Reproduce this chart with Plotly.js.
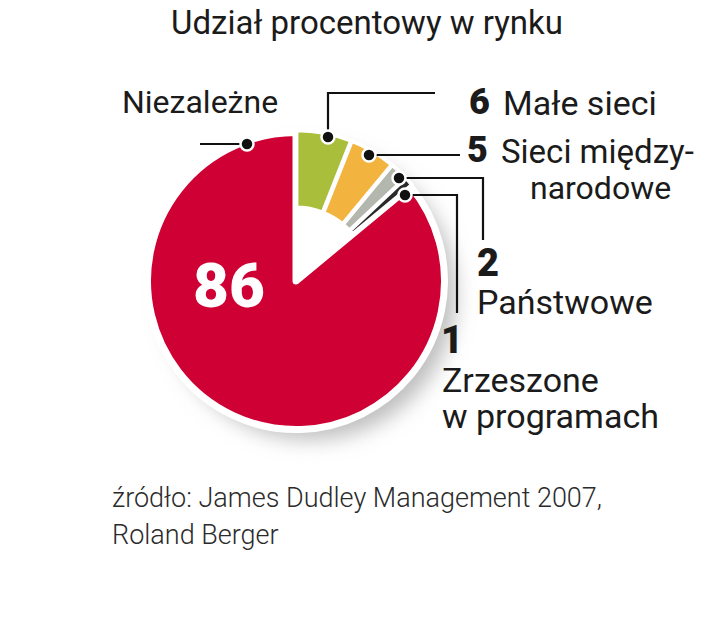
<!DOCTYPE html>
<html>
<head>
<meta charset="utf-8">
<script src="https://cdn.plot.ly/plotly-3.0.1.min.js"></script>
<style>html,body{margin:0;padding:0;background:#fff}#chart{width:720px;height:633px}</style>
</head>
<body>
<div id="chart"></div>
<script>
// ---- data ----
var categories = ["Małe sieci", "Sieci między-<br>narodowe", "Państwowe", "Zrzeszone w programach", "Niezależne"];
var shares = [6, 5, 2, 1, 86];
var sliceColors = ["#a9be3b", "#f2b43f", "#b3b7ad", "#2a2a2a", "#cf0033"];
var titleText = "Udział procentowy w rynku";
var sourceLines = ["źródło: James Dudley Management 2007,", "Roland Berger"];

// ---- layout helpers (pixel -> paper) ----
var W = 720, H = 633;
function px(x) { return x / W; }
function py(y) { return 1 - y / H; }

var cx = 296, cy = 281, r = 148.5, pullAmt = 0.015;
var half = r * (1 + pullAmt);
var dom = { x: [px(cx - half), px(cx + half)], y: [py(cy + half), py(cy - half)] };
var pulls = shares.map(function (v, i) { return i < 4 ? pullAmt : 0; });
var clear = "rgba(0,0,0,0)";

// full pie: red slice plus white wedge for the gap
var base = {
  type: "pie", values: shares, labels: categories, sort: false,
  direction: "clockwise", rotation: 0, textinfo: "none", hoverinfo: "skip",
  showlegend: false, domain: dom, pull: pulls,
  marker: {
    colors: sliceColors.map(function (c, i) { return i === 4 ? c : "#ffffff"; }),
    line: { color: "#ffffff", width: shares.map(function (v, i) { return i === 4 ? 7 : 3; }) }
  }
};
// outer ring holding the small slices
var ring = {
  type: "pie", values: shares, labels: categories, sort: false, hole: 0.48,
  direction: "clockwise", rotation: 0, textinfo: "none", hoverinfo: "skip",
  showlegend: false, domain: dom, pull: pulls,
  marker: {
    colors: sliceColors.map(function (c, i) { return i === 4 ? clear : c; }),
    line: { color: "#ffffff", width: shares.map(function (v, i) { return i === 4 ? 0 : 4; }) }
  }
};

var FONT = "Roboto, 'DejaVu Sans', sans-serif";
var INK = "#1b1b1b";
function ann(text, x, y, size, opts) {
  opts = opts || {};
  return {
    xref: "paper", yref: "paper", x: px(x), y: py(y), text: text, showarrow: false,
    xanchor: opts.xanchor || "left", yanchor: "middle", align: "left",
    font: { family: FONT, size: size, color: opts.color || INK, weight: opts.weight || 400 }
  };
}

var annotations = [
  ann(categories[4], 120, 102, 32),
  ann(String(shares[0]), 467, 102, 36, { weight: 900 }),
  ann(categories[0], 501, 103, 34),
  ann(String(shares[1]), 465, 150, 36, { weight: 900 }),
  ann("Sieci między-", 499, 151, 33),
  ann("narodowe", 528, 188, 32),
  ann(String(shares[2]), 475, 263, 38, { weight: 900 }),
  ann(categories[2], 475, 302, 34),
  ann(String(shares[3]), 439, 340, 38, { weight: 900 }),
  ann("Zrzeszone", 440, 380, 34),
  ann("w programach", 440, 416, 34),
  ann(String(shares[4]), 229, 286, 62, { xanchor: "center", color: "#ffffff", weight: 900 }),
  ann(sourceLines[0], 110, 498, 27, { weight: 300, color: "#2b2b2b" }),
  ann(sourceLines[1], 110, 535, 27, { weight: 300, color: "#2b2b2b" })
];

function seg(pts) {
  var d = "M" + pts.map(function (p) { return px(p[0]) + "," + py(p[1]); }).join(" L");
  return { type: "path", xref: "paper", yref: "paper", path: d,
           line: { color: "#111", width: 2.2 }, layer: "above" };
}
function dot(x, y) {
  var rr = 6.5;
  return { type: "circle", xref: "paper", yref: "paper",
           x0: px(x - rr), x1: px(x + rr), y0: py(y + rr), y1: py(y - rr),
           fillcolor: "#111", line: { color: "#ffffff", width: 2.5 }, layer: "above" };
}
var shapes = [
  seg([[200, 144], [247, 144]]),
  seg([[328, 137], [328, 93], [435, 93]]),
  seg([[369, 155], [460, 155]]),
  seg([[399, 178], [483, 178], [483, 240]]),
  seg([[405, 195], [457, 195], [457, 313]]),
  dot(247, 144), dot(328, 137), dot(369, 155), dot(399, 178), dot(405, 195)
];

// soft drop shadow below the pie (decoration)
var S = 440;
var shadowSvg = '<svg xmlns="http://www.w3.org/2000/svg" width="' + S + '" height="' + S + '">' +
  '<defs><filter id="b" x="-50%" y="-50%" width="200%" height="200%"><feGaussianBlur stdDeviation="10"/></filter></defs>' +
  '<circle cx="' + (S / 2 + 14) + '" cy="' + (S / 2 + 13) + '" r="146" fill="#a9a9a9" fill-opacity="0.75" filter="url(#b)"/></svg>';
var images = [{
  source: "data:image/svg+xml;charset=utf-8," + encodeURIComponent(shadowSvg),
  xref: "paper", yref: "paper", x: px(cx - S / 2), y: py(cy - S / 2),
  sizex: S / W, sizey: S / H, xanchor: "left", yanchor: "top",
  sizing: "stretch", layer: "below"
}];

var layout = {
  width: W, height: H, margin: { l: 0, r: 0, t: 0, b: 0 },
  paper_bgcolor: "#ffffff", plot_bgcolor: "#ffffff",
  title: { text: titleText, x: px(367), y: py(22), xanchor: "center", yanchor: "middle",
           xref: "paper", yref: "paper", font: { family: FONT, size: 33, color: INK } },
  annotations: annotations, shapes: shapes, images: images, showlegend: false
};

Plotly.newPlot("chart", [base, ring], layout, { staticPlot: true, displayModeBar: false });
</script>
</body>
</html>
